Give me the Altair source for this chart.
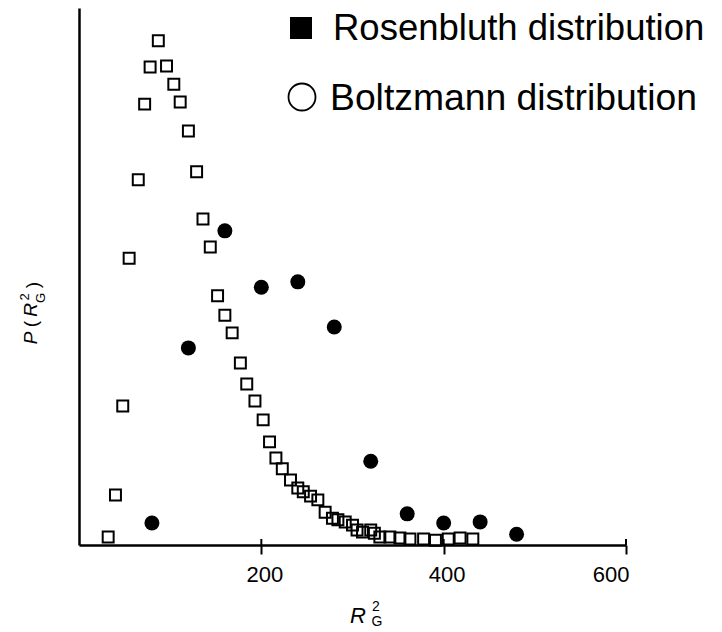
import altair as alt
import pandas as pd

# Boltzmann distribution (open squares)
sq_x = [32, 40, 48, 55, 65, 72, 78, 87, 96, 104, 111, 120, 129, 136, 144, 152, 160, 168,
        177, 184, 193, 202, 209, 216, 223, 232, 240, 246, 254, 262, 270, 278, 284, 292,
        300, 305, 311, 320, 324, 330, 341, 352, 363, 378, 391, 405, 418, 432]
sq_y = [1.5, 9.3, 25.9, 53.4, 68.0, 82.1, 89.0, 93.9, 89.2, 85.8, 82.5, 77.1, 69.5, 60.7,
        55.5, 46.4, 42.8, 39.5, 33.9, 30.0, 26.8, 23.3, 19.2, 16.2, 14.2, 12.1, 10.6, 9.9,
        9.1, 8.4, 6.1, 5.0, 4.7, 4.3, 3.7, 2.8, 2.4, 2.8, 2.2, 1.5, 1.5, 1.3, 1.1, 1.1,
        0.9, 1.1, 1.3, 1.1]

# Rosenbluth distribution (filled circles)
ci_x = [80, 120, 160, 200, 240, 280, 320, 360, 400, 440, 480]
ci_y = [4.1, 36.7, 58.5, 48.0, 49.0, 40.6, 15.6, 5.8, 4.1, 4.3, 2.0]

x_ticks = [200, 400, 600]
legend_labels = ["Rosenbluth distribution", "Boltzmann distribution"]

W, H = 547, 537
tick_font = "Liberation Sans, Arial"
label_font = "Liberation Sans, Arial"

sq_df = pd.DataFrame({"x": sq_x, "y": sq_y})
ci_df = pd.DataFrame({"x": ci_x, "y": ci_y})
tick_df = pd.DataFrame({"x": x_ticks})
dummy = alt.Data(values=[{"a": 1}])

xscale = alt.Scale(domain=[0, 600], nice=False, zero=False)
yscale = alt.Scale(domain=[0, 100], nice=False, zero=True)

xaxis = alt.Axis(values=x_ticks, title=None, grid=False, domainWidth=2.5, domainColor="black",
                 tickSize=9, tickWidth=2, tickColor="black", labelFont=tick_font,
                 labelFontSize=22, labelColor="black", labelPadding=10, labelOffset=3)
yaxis = alt.Axis(title=None, grid=False, ticks=False, labels=False, domainWidth=2.5,
                 domainColor="black")

squares = alt.Chart(sq_df).mark_point(shape="square", filled=False, size=120,
                                      strokeWidth=2, color="black", opacity=1).encode(
    x=alt.X("x:Q", scale=xscale, axis=xaxis),
    y=alt.Y("y:Q", scale=yscale, axis=yaxis),
)

circles = alt.Chart(ci_df).mark_circle(size=225, color="black", opacity=1).encode(
    x=alt.X("x:Q", scale=xscale),
    y=alt.Y("y:Q", scale=yscale),
)

inner_ticks = alt.Chart(tick_df).mark_rule(color="black", strokeWidth=2).encode(
    x=alt.X("x:Q", scale=xscale),
    y=alt.value(H - 6),
    y2=alt.value(H),
)

def txt(s, x, y, size, font, align="center", baseline="middle", angle=0, style="normal"):
    return alt.Chart(dummy).mark_text(text=s, fontSize=size, font=font, align=align,
                                      baseline=baseline, angle=angle, fontStyle=style,
                                      color="black").encode(x=alt.value(x), y=alt.value(y))

# legend
leg_sq = alt.Chart(dummy).mark_point(shape="square", filled=True, size=484, color="black",
                                     opacity=1).encode(x=alt.value(222), y=alt.value(20))
leg_ci = alt.Chart(dummy).mark_point(shape="circle", filled=False, size=729, color="black",
                                     strokeWidth=1.8, opacity=1).encode(x=alt.value(223), y=alt.value(89))
leg_t1 = txt(legend_labels[0], 254, 32, 36.5, "Liberation Sans, Arial", align="left", baseline="alphabetic")
leg_t2 = txt(legend_labels[1], 251, 102, 37.3, "Liberation Sans, Arial", align="left", baseline="alphabetic")

# y axis title P(R_G^2)
y_p = txt("P", -48, 330, 19, label_font, angle=270, style="italic")
y_o = txt("(", -48, 316, 19, label_font, angle=270)
y_r = txt("R", -48, 302, 19, label_font, angle=270, style="italic")
y_2 = txt("2", -54, 289, 13, label_font, angle=270)
y_g = txt("G", -38, 290, 13, label_font, angle=270)
y_c = txt(")", -46, 277, 19, label_font, angle=270)

# x axis title R_G^2
x_r = txt("R", 279, 608, 22, label_font, style="italic")
x_2 = txt("2", 297, 599, 14, label_font)
x_g = txt("G", 298, 614, 14, label_font)

chart = alt.layer(
    squares, circles, inner_ticks, leg_sq, leg_ci, leg_t1, leg_t2,
    y_p, y_o, y_r, y_2, y_g, y_c, x_r, x_2, x_g
).properties(
    width=W, height=H,
    autosize=alt.AutoSizeParams(type="none"),
    padding={"left": 79, "top": 8, "right": 96, "bottom": 87},
    background="white",
).configure_view(stroke=None)

chart.save("out.html", embed_options={"renderer": "svg", "actions": False})
